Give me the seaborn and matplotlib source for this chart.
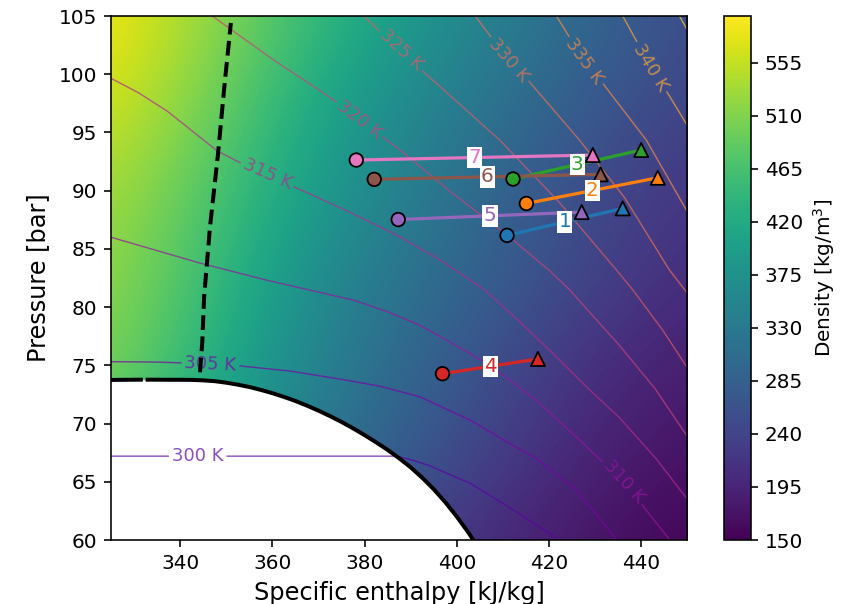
import numpy as np
import pandas as pd
import matplotlib
matplotlib.use("Agg")
import matplotlib.pyplot as plt
from matplotlib.contour import ContourSet
import seaborn as sns

# ---------------- data ----------------
# density background (kg/m3) on a coarse grid, rows = pressure, cols = enthalpy
rho_h = [325, 350, 375, 400, 425, 450]
rho_P = [60, 67.5, 75, 82.5, 90, 97.5, 105]
rho_60 = [420, 340, 270, 212, 178, 152]
rho_67 = [470, 380, 310, 250, 198, 170]
rho_75 = [515, 415, 328, 273, 215, 183]
rho_82 = [525, 440, 345, 296, 246, 205]
rho_90 = [540, 460, 378, 312, 256, 215]
rho_97 = [570, 488, 395, 333, 280, 238]
rho_105 = [594, 510, 435, 363, 305, 250]
cbar_ticks = [150, 195, 240, 285, 330, 375, 420, 465, 510, 555]

# isotherms (h in kJ/kg, P in bar)
T300_h = [320, 386.9, 390, 394, 398, 402.9, 409, 415.5, 422.3, 426]
T300_P = [67.2, 67.2, 66.9, 66.4, 65.7, 64.87, 63.4, 61.75, 60.0, 58.9]
T305_h = [320, 335, 349.5, 364, 375, 383.4, 392, 402.9, 410.1, 417.3, 426, 434.6, 437]
T305_P = [75.33, 75.28, 75.09, 74.5, 73.8, 73.2, 72.3, 70.3, 68.6, 67.0, 64.3, 60.06, 59.0]
T310_h = [320, 325, 344.5, 358.9, 377.6, 385, 392, 399, 407.2, 417.3, 426.6, 436.2, 446.1, 448.5]
T310_P = [86.5, 86.0, 83.76, 82.3, 80.6, 79.6, 78.44, 76.9, 75.0, 72.0, 68.6, 65.0, 60.06, 58.7]
T315_h = [320, 325, 331, 337.3, 343, 348.1, 353.5, 358.9, 364.3, 376, 387.7, 397, 406.1,
          413.5, 420.9, 428, 435.3, 443.2, 450, 452]
T315_P = [100.6, 99.65, 98.4, 96.8, 95.0, 93.4, 92.3, 91.4, 90.4, 88.3, 86.04, 83.9, 81.47,
          78.8, 76.0, 73.2, 70.5, 67.0, 63.5, 62.3]
T320_h = [344, 347.3, 360, 373.3, 378.9, 387.7, 399, 410.9, 420.2, 424.5, 435.3, 443, 450, 452]
T320_P = [105.8, 104.9, 101.3, 97.8, 96.1, 93.5, 89.8, 86.2, 83.1, 81.47, 76.7, 73.0, 68.9, 67.6]
T325_h = [378, 379.8, 383.4, 388.1, 392.8, 401, 409.3, 422, 434.6, 438.2, 444.7, 450, 452]
T325_P = [105.7, 105.0, 103.65, 102.1, 100.2, 97.3, 94.35, 89.1, 83.2, 81.47, 78.0, 74.8, 73.5]
T330_h = [402.5, 404, 411.2, 415.1, 426.6, 436.4, 446.1, 450, 452]
T330_P = [105.8, 105.0, 101.2, 99.65, 94.35, 89.4, 83.2, 81.2, 80.1]
T335_h = [420.5, 421.6, 427.7, 431.7, 441.1, 450, 452]
T335_P = [105.7, 105.0, 101.1, 99.2, 94.35, 88.2, 86.8]
T340_h = [435, 436.0, 442.1, 445.4, 450, 452]
T340_P = [105.7, 105.0, 100.6, 98.6, 95.6, 94.3]
T345_h = [447.5, 448.3, 450, 452]
T345_P = [105.6, 105.0, 103.8, 102.4]
iso_levels = [300, 305, 310, 315, 320, 325, 330, 335, 340, 345]
iso_label_levels = [300, 305, 310, 315, 320, 325, 330, 335, 340]
iso_label_h = [343.8, 346.6, 436.2, 358.9, 378.9, 388.1, 411.2, 427.7, 442.1]
iso_label_P = [67.2, 75.3, 65.0, 91.4, 96.1, 102.1, 101.2, 101.1, 100.6]

# saturation dome
dome_liq_h = [318, 326, 331.9]
dome_liq_P = [73.70, 73.75, 73.77]
dome_vap_h = [332.5, 335, 337.5, 340, 342.5, 345, 347.5, 350, 352.5, 355, 357.5, 360,
              362.5, 365, 367.5, 370, 372.5, 375, 377.5, 380, 382.5, 385, 387.5, 390,
              392.5, 395, 397.5, 400, 402.5, 405]
dome_vap_P = [73.77, 73.765, 73.76, 73.76, 73.75, 73.71, 73.64, 73.51, 73.34, 73.14, 72.89,
              72.61, 72.29, 71.94, 71.54, 71.11, 70.64, 70.14, 69.59, 69.01, 68.39, 67.74,
              67.02, 66.24, 65.35, 64.36, 63.25, 62.01, 60.65, 59.16]

# pseudo-critical (Widom) line
widom_h = [344.3, 344.8, 345.2, 346.5, 348.2, 349.6, 351.0]
widom_P = [74.4, 77.0, 80.9, 87.0, 93.1, 99.0, 104.4]

# processes 1..7 (start circle -> end triangle)
proc_ids = ["1", "2", "3", "4", "5", "6", "7"]
proc_colors = ["#1f77b4", "#ff7f0e", "#2ca02c", "#d62728", "#9467bd", "#8c564b", "#e377c2"]
start_h = [410.9, 415.1, 412.2, 396.9, 387.3, 382.1, 378.2]
start_P = [86.16, 88.90, 91.00, 74.28, 87.52, 90.97, 92.63]
end_h = [436.0, 443.6, 440.0, 417.6, 427.1, 431.2, 429.5]
end_P = [88.48, 91.11, 93.49, 75.55, 88.16, 91.40, 93.06]

x_ticks = [340, 360, 380, 400, 420, 440]
y_ticks = [60, 65, 70, 75, 80, 85, 90, 95, 100, 105]

# ---------------- figure ----------------
DPI = 144
fig = plt.figure(figsize=(848 / DPI, 604 / DPI), dpi=DPI)
ax = fig.add_axes([111 / 848, 64 / 604, 576.3 / 848, 524 / 604])
cax = fig.add_axes([724.3 / 848, 64 / 604, 26.4 / 848, 524 / 604])

rho = np.array([rho_60, rho_67, rho_75, rho_82, rho_90, rho_97, rho_105], dtype=float)
dh = (rho_h[1] - rho_h[0]) / 2
dP = (rho_P[1] - rho_P[0]) / 2
im = ax.imshow(rho, origin="lower", aspect="auto", cmap="viridis",
               vmin=150, vmax=594.6, interpolation="bicubic",
               extent=[rho_h[0] - dh, rho_h[-1] + dh, rho_P[0] - dP, rho_P[-1] + dP],
               zorder=0)

# white two-phase region
dome_h_all = np.array(dome_liq_h + dome_vap_h)
dome_P_all = np.array(dome_liq_P + dome_vap_P)
ax.fill_between(dome_h_all, 50, dome_P_all, color="white", lw=0, zorder=1)

ax.set_xlim(325, 450)
ax.set_ylim(60, 105)

iso_h = [T300_h, T305_h, T310_h, T315_h, T320_h, T325_h, T330_h, T335_h, T340_h, T345_h]
iso_P = [T300_P, T305_P, T310_P, T315_P, T320_P, T325_P, T330_P, T335_P, T340_P, T345_P]
segs = [[np.column_stack([h, p])] for h, p in zip(iso_h, iso_P)]
cs = ContourSet(ax, iso_levels, segs, cmap="plasma",
                norm=plt.Normalize(290, 352), linewidths=0.7, alpha=0.7, zorder=2)
ax.set_xlim(325, 450)
ax.set_ylim(60, 105)
cs.clabel(iso_label_levels, inline=True, fontsize=9, fmt="%d K", inline_spacing=3,
          manual=list(zip(iso_label_h, iso_label_P)))

# dome boundary and Widom line
ax.plot(dome_liq_h, dome_liq_P, color="black", lw=2, zorder=3, solid_capstyle="butt")
ax.plot(dome_vap_h, dome_vap_P, color="black", lw=2, zorder=3, solid_capstyle="butt")
ax.plot(widom_h, widom_P, color="black", lw=2, ls="--", zorder=4)

# processes via seaborn
pal = dict(zip(proc_ids, proc_colors))
proc_df = pd.DataFrame({
    "process": [p for p in proc_ids for _ in range(2)],
    "h": [v for pair in zip(start_h, end_h) for v in pair],
    "P": [v for pair in zip(start_P, end_P) for v in pair],
})
sns.lineplot(data=proc_df, x="h", y="P", hue="process", palette=pal, sort=False,
             estimator=None, legend=False, lw=1.6, ax=ax, zorder=5)
sns.scatterplot(x=start_h, y=start_P, hue=proc_ids, palette=pal, marker="o", s=46,
                edgecolor="black", linewidth=0.9, legend=False, ax=ax, zorder=6)
sns.scatterplot(x=end_h, y=end_P, hue=proc_ids, palette=pal, marker="^", s=50,
                edgecolor="black", linewidth=0.9, legend=False, ax=ax, zorder=6)
for pid, c, h0, p0, h1, p1 in zip(proc_ids, proc_colors, start_h, start_P, end_h, end_P):
    ax.text((h0 + h1) / 2, (p0 + p1) / 2, pid, color=c, fontsize=10, ha="center",
            va="center", zorder=7,
            bbox=dict(facecolor="white", edgecolor="none", pad=0.6))

ax.set_xlim(325, 450)
ax.set_ylim(60, 105)
ax.set_xticks(x_ticks)
ax.set_yticks(y_ticks)
ax.tick_params(labelsize=10)
ax.set_xlabel("Specific enthalpy [kJ/kg]", fontsize=12)
ax.set_ylabel("Pressure [bar]", fontsize=12)

cb = fig.colorbar(im, cax=cax, ticks=cbar_ticks)
cb.ax.tick_params(labelsize=10)
cb.set_label("Density [kg/m$^3$]", fontsize=10)

fig.savefig("out.png", dpi=DPI)
